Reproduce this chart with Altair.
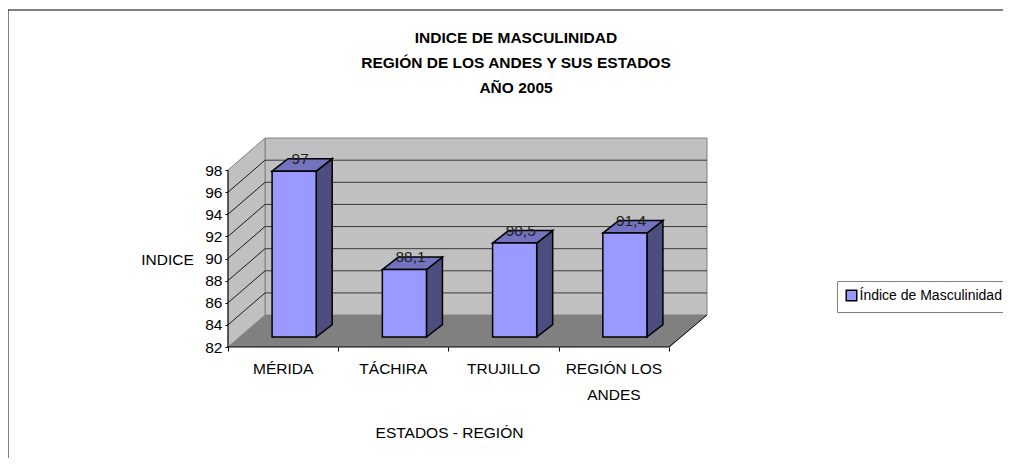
import altair as alt
import pandas as pd

# ---- data ----
categories = ["MÉRIDA", "TÁCHIRA", "TRUJILLO", ["REGIÓN LOS", "ANDES"]]
values = [97.0, 88.1, 90.5, 91.4]
value_labels = ["97", "88,1", "90,5", "91,4"]
y_ticks = [82, 84, 86, 88, 90, 92, 94, 96, 98]
series_name = "Índice de Masculinidad"
title_lines = ["INDICE DE MASCULINIDAD", "REGIÓN DE LOS ANDES Y SUS ESTADOS", "AÑO 2005"]

# ---- pseudo-3D geometry, in scale units ----
FONT = "Liberation Sans"
FS = 15.5
Y0, Y1, YMAX = 82, 98, 100.897
N = len(values)
XMAX = 4.3447
WALL_DX, WALL_DY = 0.336, 2.89      # depth of the box
BAR_L, BAR_R = 0.40, 0.80           # bar span inside a category
BAR_DX, BAR_DY = 0.145, 1.13        # depth of a bar
BASE = 0.9                          # bars stand this far behind the front edge

x_scale = alt.Scale(domain=[0, XMAX], nice=False, zero=False)
y_scale = alt.Scale(domain=[Y0, YMAX], nice=False, zero=False)
x_axis = alt.Axis(
    values=list(range(N + 1)), labels=False, domain=False, grid=False, tickSize=4, tickColor="#000000",
    titleFont=FONT, titleFontSize=FS, titleFontWeight="normal", titleColor="#000000",
    titleX=221, titleY=85, titleAlign="center", titleBaseline="middle")
y_axis = alt.Axis(
    values=y_ticks, domain=False, grid=False, tickSize=3, tickColor="#000000",
    labelFont=FONT, labelFontSize=FS, labelColor="#000000", labelPadding=3,
    titleFont=FONT, titleFontSize=FS, titleFontWeight="normal", titleColor="#000000",
    titleAngle=0, titleX=-61, titleY=121, titleAlign="center", titleBaseline="middle")
X = lambda f="x": alt.X(f"{f}:Q", scale=x_scale, axis=x_axis, title="ESTADOS - REGIÓN")
Y = lambda f="y": alt.Y(f"{f}:Q", scale=y_scale, axis=y_axis, title="INDICE", stack=None)

# walls and floor
back = alt.Chart(pd.DataFrame([{"x": WALL_DX, "x2": XMAX, "y": Y0 + WALL_DY, "y2": Y1 + WALL_DY}])).mark_rect(
    fill="#C0C0C0", stroke="#808080", strokeWidth=1
).encode(x=X(), x2="x2:Q", y=Y(), y2="y2:Q")

left_wall = alt.Chart(pd.DataFrame([
    {"x": 0, "y": Y0, "y2": Y1},
    {"x": WALL_DX, "y": Y0 + WALL_DY, "y2": Y1 + WALL_DY},
])).mark_area(fill="#C0C0C0", stroke="#808080", strokeWidth=1, opacity=1).encode(x=X(), y=Y(), y2="y2:Q")

floor_xs = [0, WALL_DX, XMAX - WALL_DX, XMAX]
floor = alt.Chart(pd.DataFrame({
    "x": floor_xs,
    "y": [Y0, Y0 + WALL_DY, Y0 + WALL_DY, Y0 + WALL_DY],
    "y2": [Y0, Y0, Y0, Y0 + WALL_DY],
})).mark_area(fill="#808080", opacity=1).encode(x=X(), y=Y(), y2="y2:Q")

# gridlines
grid_df = pd.DataFrame({"v": y_ticks[1:-1]})
grid_df["yb"] = grid_df["v"] + WALL_DY
grid_df["x0"] = 0.0
grid_df["x1"] = WALL_DX
grid_df["x2"] = XMAX
grid_back = alt.Chart(grid_df).mark_rule(color="#3A3A3A", strokeWidth=1).encode(x=X("x1"), x2="x2:Q", y=Y("yb"))
grid_side = alt.Chart(grid_df).mark_rule(color="#1A1A1A", strokeWidth=1).encode(
    x=X("x0"), x2="x1:Q", y=Y("v"), y2="yb:Q")

x_line = alt.Chart(pd.DataFrame([{"x": 0, "x2": N, "y": Y0}])).mark_rule(color="#000000").encode(
    x=X(), x2="x2:Q", y=Y())
y_line = alt.Chart(pd.DataFrame([{"x": 0, "y": Y0, "y2": Y1}])).mark_rule(color="#000000").encode(
    x=X(), y=Y(), y2="y2:Q")
wall_slant = alt.Chart(pd.DataFrame([{"x": N, "x2": XMAX, "y": Y0, "y2": Y0 + WALL_DY}])).mark_rule(
    color="#000000").encode(x=X(), x2="x2:Q", y=Y(), y2="y2:Q")

# bars
side_rows, top_rows, front_rows = [], [], []
for i, v in enumerate(values):
    l, r, b, t = i + BAR_L, i + BAR_R, Y0 + BASE, v + BASE
    front_rows.append({"x": l, "x2": r, "y": b, "y2": t, "serie": series_name,
                       "lx": l + 0.255, "ly": t + BAR_DY, "txt": value_labels[i]})
    side_rows += [{"bar": i, "x": r, "y": t, "y2": b},
                  {"bar": i, "x": r + BAR_DX, "y": t + BAR_DY, "y2": b + BAR_DY}]
    top_rows += [{"bar": i, "x": l, "y": t, "y2": t},
                 {"bar": i, "x": l + BAR_DX, "y": t + BAR_DY, "y2": t},
                 {"bar": i, "x": r, "y": t + BAR_DY, "y2": t},
                 {"bar": i, "x": r + BAR_DX, "y": t + BAR_DY, "y2": t + BAR_DY}]

side = alt.Chart(pd.DataFrame(side_rows)).mark_area(
    fill="#4D4D80", stroke="#000000", strokeWidth=1.5, opacity=1
).encode(x=X(), y=Y(), y2="y2:Q", detail="bar:N")
top = alt.Chart(pd.DataFrame(top_rows)).mark_area(
    fill="#7373BF", stroke="#000000", strokeWidth=1.5, opacity=1
).encode(x=X(), y=Y(), y2="y2:Q", detail="bar:N")

front_df = pd.DataFrame(front_rows)
front = alt.Chart(front_df).mark_rect(stroke="#000000", strokeWidth=1.5).encode(
    x=X(), x2="x2:Q", y=Y(), y2="y2:Q",
    color=alt.Color("serie:N", title=None,
                    scale=alt.Scale(domain=[series_name], range=["#9999FF"]),
                    legend=alt.Legend(
                        orient="none", legendX=609, legendY=143, title=None,
                        symbolType="square", symbolSize=110, symbolStrokeColor="#000000",
                        symbolStrokeWidth=1.5, symbolOpacity=1,
                        labelFont=FONT, labelFontSize=14, labelColor="#000000", labelLimit=400,
                        labelOffset=1, strokeColor="#808080", fillColor="#FFFFFF", padding=7.5)),
)
labels = alt.Chart(front_df).mark_text(font=FONT, fontSize=FS, color="#222222", baseline="middle").encode(
    x=X("lx"), y=Y("ly"), text="txt:N")

# category labels
cat_df = pd.DataFrame({"x": [i + 0.5 for i in range(N)], "label": categories})
cat_text = alt.Chart(cat_df).mark_text(
    font=FONT, fontSize=FS, color="#000000", baseline="middle", lineHeight=26
).encode(x=X(), y=alt.value(231), text="label")

# chart heading, kept as a text mark so that it ignores the outer frame's bounds
heading = alt.Chart(pd.DataFrame({"label": [title_lines]})).mark_text(
    font=FONT, fontSize=FS, fontWeight="bold", color="#000000", baseline="middle", lineHeight=25
).encode(x=alt.value(288), y=alt.value(-100), text="label")

# outer frame of the picture
frame_top = alt.Chart(pd.DataFrame({"a": [0]})).mark_rule(color="#000000").encode(
    x=alt.value(-220), x2=alt.value(790), y=alt.value(-128))
frame_left = alt.Chart(pd.DataFrame({"a": [0]})).mark_rule(color="#000000").encode(
    x=alt.value(-220), y=alt.value(-128), y2=alt.value(330))

chart = alt.layer(
    back, left_wall, floor, grid_back, grid_side, x_line, y_line, wall_slant,
    side, top, front, labels, cat_text, heading, frame_top, frame_left,
).properties(
    width=479, height=209,
    padding={"left": 220, "top": 130, "right": 296, "bottom": 111},
    autosize=alt.AutoSizeParams(type="none"),
).configure_view(stroke=None)

chart.save("out.html", embed_options={"renderer": "svg", "actions": False})
